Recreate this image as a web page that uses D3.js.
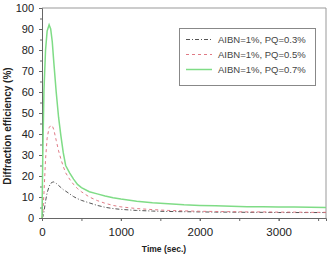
<!DOCTYPE html>
<html><head><meta charset="utf-8">
<script src="https://cdn.jsdelivr.net/npm/d3@7"></script>
<style>body{margin:0;background:#fff}svg{display:block;font-family:"Liberation Sans",Arial,sans-serif}</style>
</head><body><svg id="c" width="330" height="256"></svg>
<script>
const times = [0,10,25,45,65,90,110,130,150,180,210,240,270,300,350,400,450,500,600,700,800,900,1000,1200,1400,1600,1800,2000,2200,2400,2600,2800,3000,3200,3400,3600];
const pq03 = [0,0.5,3,8,12,15,16.5,17,17.2,16.5,15.5,14.5,13.5,12.8,11.5,10.2,9.2,8.4,7.2,6.0,5.1,4.5,4.1,3.6,3.3,3.1,3.0,2.9,2.8,2.8,2.7,2.7,2.6,2.6,2.6,2.6];
const pq05 = [0,2,12,28,38,43,44,44,42,37,32,28,24.5,21.5,18.5,16,14,12.5,10,8.3,7,6,5.3,4.5,4,3.6,3.4,3.2,3.1,3.0,2.9,2.9,2.8,2.8,2.7,2.7];
const pq07 = [0,30,61,80,89,92,90,84,74,60,48,39,31,25,21.5,18.5,16,14.5,12.5,11.5,10.5,9.6,9.0,8.0,7.3,6.8,6.3,6.0,5.8,5.6,5.4,5.3,5.2,5.2,5.1,5.0];
const labels = ["AIBN=1%, PQ=0.3%","AIBN=1%, PQ=0.5%","AIBN=1%, PQ=0.7%"];
const xTicks = [0,1000,2000,3000];
const yTicks = [0,10,20,30,40,50,60,70,80,90,100];
const seriesList = [
  {name:labels[0], values:pq03, color:"#555", dash:"4,2,1,2", w:1},
  {name:labels[1], values:pq05, color:"#e07a85", dash:"3,3", w:1},
  {name:labels[2], values:pq07, color:"#7fdc86", dash:null, w:1.5}
];
const svg = d3.select("#c");
const L=42, R=326, T=8, B=218;
const x = d3.scaleLinear().domain([0,3600]).range([L,R]);
const y = d3.scaleLinear().domain([0,100]).range([B,T]);

// frame
svg.append("path").attr("d",`M${L},${T}H${R}V${B}`).attr("fill","none").attr("stroke","#999").attr("stroke-width",1);

// minor ticks
const xa = svg.append("g").attr("transform",`translate(0,${B})`)
  .call(d3.axisBottom(x).tickValues(d3.range(0,3600,500)).tickSize(3).tickFormat(""));
xa.select(".domain").attr("stroke","#666");
xa.selectAll(".tick line").attr("stroke","#666");
const xl = svg.append("g").attr("transform",`translate(0,${B})`)
  .call(d3.axisBottom(x).tickValues(xTicks).tickSize(3).tickPadding(7).tickFormat(d3.format("d")));
xl.select(".domain").remove();
xl.selectAll(".tick line").attr("stroke","#666");
xl.selectAll("text").attr("font-size","11.5px").attr("fill","#222").attr("font-family","Liberation Sans, Arial, sans-serif");

const ya = svg.append("g").attr("transform",`translate(${L},0)`)
  .call(d3.axisLeft(y).tickValues(d3.range(0,101,5)).tickSize(2).tickFormat(""));
ya.select(".domain").attr("stroke","#666");
ya.selectAll(".tick line").attr("stroke","#666");
const yl = svg.append("g").attr("transform",`translate(${L},0)`)
  .call(d3.axisLeft(y).tickValues(yTicks).tickSize(3).tickPadding(5));
yl.select(".domain").remove();
yl.selectAll(".tick line").attr("stroke","#666");
yl.selectAll("text").attr("font-size","11px").attr("fill","#222").attr("font-family","Liberation Sans, Arial, sans-serif");

// lines
const line = d3.line().x((d,i)=>x(times[i])).y(d=>y(d));
seriesList.forEach(s=>{
  svg.append("path").datum(s.values).attr("d",line).attr("fill","none")
    .attr("stroke",s.color).attr("stroke-width",s.w).attr("stroke-dasharray",s.dash);
});

// titles
svg.append("text").attr("x",164).attr("y",252).attr("text-anchor","middle")
  .attr("font-size","8.5px").attr("font-weight","bold").attr("fill","#222").text("Time (sec.)");
svg.append("text").attr("transform","translate(11,126) rotate(-90)").attr("text-anchor","middle")
  .attr("font-size","10px").attr("font-weight","bold").attr("fill","#222").text("Diffraction efficiency (%)");

// legend
const lg = svg.append("g");
lg.append("rect").attr("x",179.5).attr("y",28.5).attr("width",136).attr("height",57)
  .attr("fill","#fff").attr("stroke","#888");
seriesList.forEach((s,i)=>{
  const yy = 39.5 + i*15;
  lg.append("line").attr("x1",186).attr("x2",212).attr("y1",yy).attr("y2",yy)
    .attr("stroke",s.color).attr("stroke-width",s.w).attr("stroke-dasharray",s.dash);
  lg.append("text").attr("x",218).attr("y",yy).attr("dy","0.35em")
    .attr("font-size","9.5px").attr("fill","#444").text(s.name);
});
</script></body></html>
